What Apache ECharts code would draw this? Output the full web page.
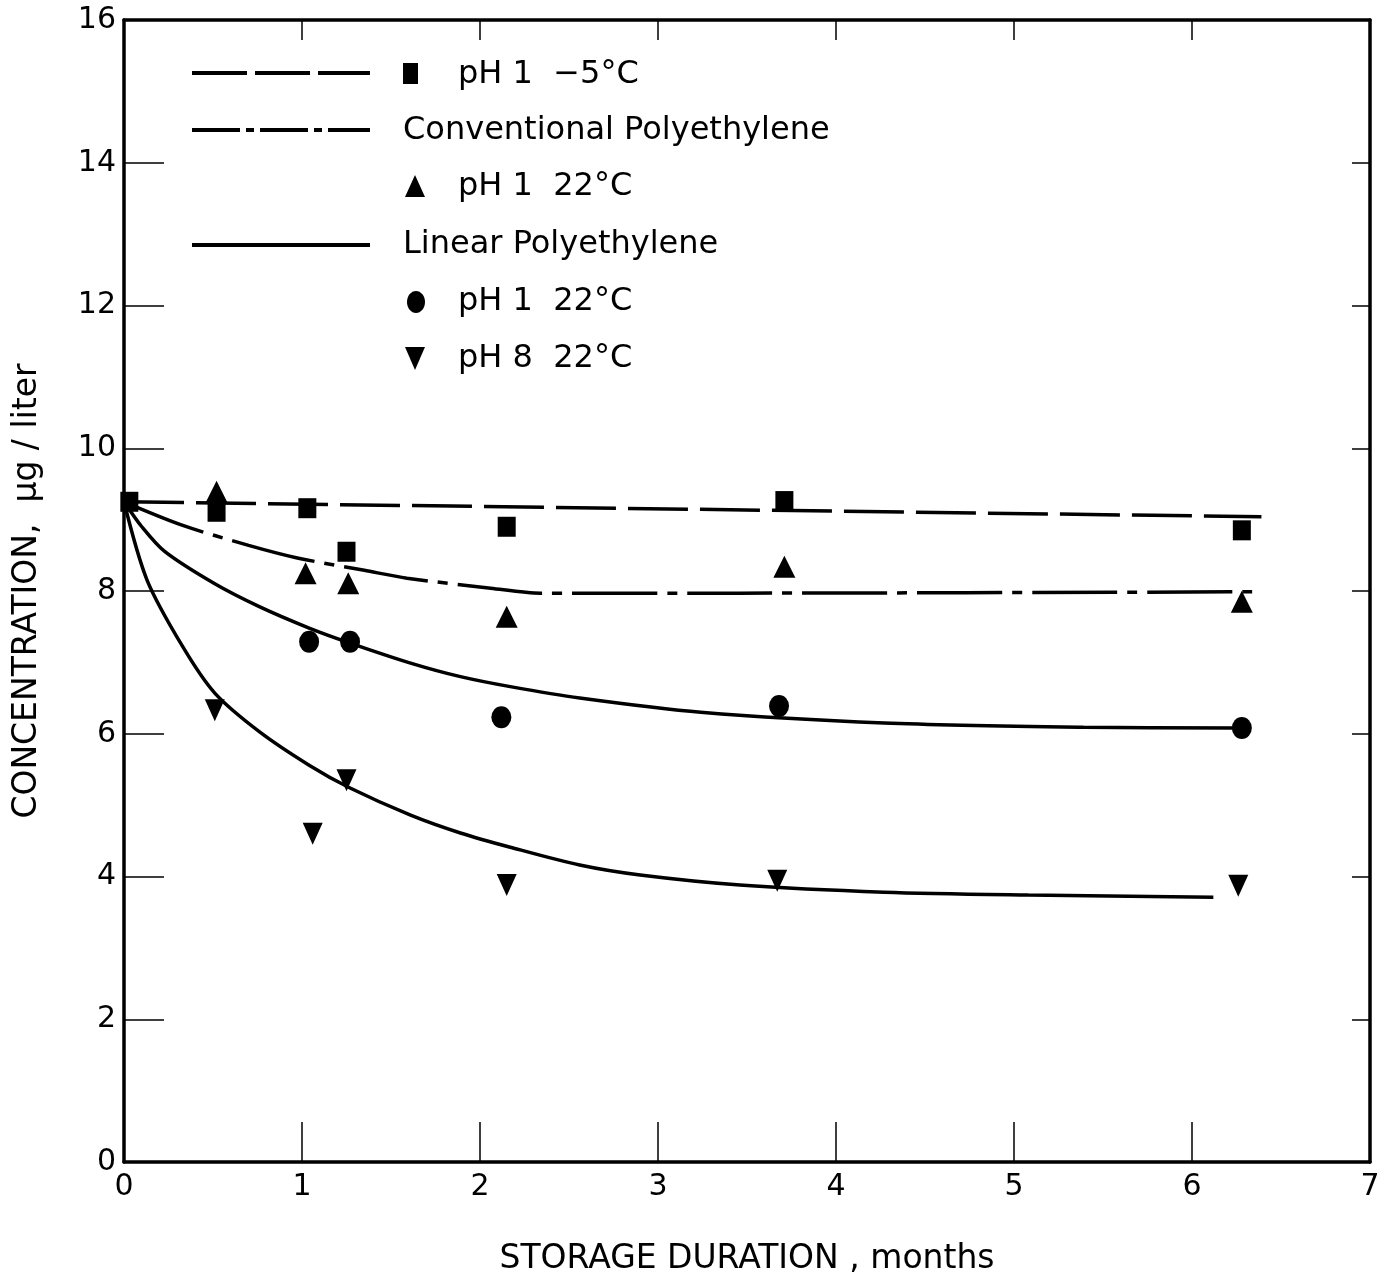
<!DOCTYPE html>
<html>
<head>
<meta charset="utf-8">
<script src="https://cdn.jsdelivr.net/npm/echarts@6/dist/echarts.min.js"></script>
<style>
  html, body { margin: 0; padding: 0; background: #fff; }
  #chart { width: 1390px; height: 1281px; }
</style>
</head>
<body>
<div id="chart"></div>
<script>
// measured points (months, ug/liter)
const sqX = [0.03, 0.52, 1.03, 1.25, 2.15, 3.71, 6.28];
const sqY = [9.25, 9.11, 9.16, 8.55, 8.90, 9.26, 8.85];
const triUpX = [0.52, 1.02, 1.26, 2.15, 3.71, 6.28];
const triUpY = [9.39, 8.25, 8.11, 7.64, 8.34, 7.85];
const circX = [1.04, 1.27, 2.12, 3.68, 6.28];
const circY = [7.29, 7.29, 6.23, 6.39, 6.08];
const triDnX = [0.51, 1.06, 1.25, 2.15, 3.67, 6.26];
const triDnY = [6.33, 4.60, 5.35, 3.88, 3.94, 3.87];

// fitted curves
const dashX = [0, 6.39];
const dashY = [9.25, 9.04];
const convX = [0, 0.33, 0.70, 0.98, 1.35, 1.59, 2.06, 2.34, 3.46, 6.39];
const convY = [9.25, 8.92, 8.64, 8.46, 8.29, 8.18, 8.04, 7.97, 7.97, 7.99];
const linX = [0, 0.10, 0.23, 0.51, 0.76, 1.04, 1.27, 1.61, 1.89, 2.17, 2.56, 3.24, 4.27, 5.39, 6.25];
const linY = [9.25, 8.90, 8.55, 8.10, 7.78, 7.48, 7.27, 6.99, 6.80, 6.66, 6.50, 6.30, 6.15, 6.09, 6.08];
const ph8X = [0, 0.13, 0.33, 0.51, 0.76, 1.04, 1.27, 1.61, 1.89, 2.17, 2.56, 2.90, 3.46, 4.27, 5.08, 6.12];
const ph8Y = [9.25, 8.15, 7.22, 6.57, 6.03, 5.56, 5.24, 4.86, 4.61, 4.41, 4.16, 4.02, 3.88, 3.78, 3.74, 3.71];

const legendRows = [
  'pH 1  \u22125\u00b0C',
  'Conventional Polyethylene',
  'pH 1  22\u00b0C',
  'Linear Polyethylene',
  'pH 1  22\u00b0C',
  'pH 8  22\u00b0C'
];

const FONT = "'DejaVu Sans', 'Liberation Sans', sans-serif";
const zip = (xs, ys) => xs.map((x, i) => [x, ys[i]]);

const chart = echarts.init(document.getElementById('chart'));

const lineStyleBase = { color: '#000', width: 3.5 };
const boxLine = { onZero: false, lineStyle: { color: '#000', width: 3.5 } };

const option = {
  backgroundColor: '#fff',
  animation: false,
  grid: { left: 124, right: 20, top: 20, bottom: 119 },
  xAxis: [
    {
      type: 'value', position: 'bottom', min: 0, max: 7, interval: 1,
      name: 'STORAGE DURATION , months', nameLocation: 'middle', nameGap: 81,
      nameTextStyle: { fontFamily: FONT, fontSize: 33, color: '#000' },
      axisLine: boxLine,
      axisTick: { inside: true, length: 40, lineStyle: { color: '#000', width: 1.5 } },
      axisLabel: { fontFamily: FONT, fontSize: 30, color: '#000', margin: 10 },
      splitLine: { show: false }
    },
    {
      type: 'value', position: 'top', min: 0, max: 7, interval: 1,
      axisLine: boxLine,
      axisTick: { inside: true, length: 20, lineStyle: { color: '#000', width: 1.5 } },
      axisLabel: { show: false },
      splitLine: { show: false }
    }
  ],
  yAxis: [
    {
      type: 'value', position: 'left', min: 0, max: 16, interval: 2,
      name: 'CONCENTRATION,  \u03bcg / liter', nameLocation: 'middle', nameGap: 80,
      nameTextStyle: { fontFamily: FONT, fontSize: 33, color: '#000' },
      axisLine: boxLine,
      axisTick: { inside: true, length: 40, lineStyle: { color: '#000', width: 1.5 } },
      axisLabel: { fontFamily: FONT, fontSize: 30, color: '#000', margin: 8 },
      splitLine: { show: false }
    },
    {
      type: 'value', position: 'right', min: 0, max: 16, interval: 2,
      axisLine: boxLine,
      axisTick: { inside: true, length: 18, lineStyle: { color: '#000', width: 1.5 } },
      axisLabel: { show: false },
      splitLine: { show: false }
    }
  ],
  series: [
    {
      name: 'pH 1 -5C fit', type: 'line', data: zip(dashX, dashY),
      symbol: 'none', lineStyle: Object.assign({}, lineStyleBase, { type: [60, 12] })
    },
    {
      name: 'Conventional Polyethylene', type: 'line', data: zip(convX, convY),
      symbol: 'none', smooth: 0.3,
      lineStyle: Object.assign({}, lineStyleBase, { type: [85, 10, 10, 10] })
    },
    {
      name: 'Linear Polyethylene pH 1', type: 'line', data: zip(linX, linY),
      symbol: 'none', smooth: 0.3, lineStyle: lineStyleBase
    },
    {
      name: 'Linear Polyethylene pH 8', type: 'line', data: zip(ph8X, ph8Y),
      symbol: 'none', smooth: 0.3, lineStyle: lineStyleBase
    },
    {
      name: 'pH 1 -5C', type: 'scatter', data: zip(sqX, sqY),
      symbol: 'rect', symbolSize: [18, 20], itemStyle: { color: '#000', opacity: 1 }, z: 5
    },
    {
      name: 'pH 1 22C (conv)', type: 'scatter', data: zip(triUpX, triUpY),
      symbol: 'triangle', symbolSize: [22, 22], itemStyle: { color: '#000', opacity: 1 }, z: 5
    },
    {
      name: 'pH 1 22C (linear)', type: 'scatter', data: zip(circX, circY),
      symbol: 'circle', symbolSize: [20, 22], itemStyle: { color: '#000', opacity: 1 }, z: 5
    },
    {
      name: 'pH 8 22C', type: 'scatter', data: zip(triDnX, triDnY),
      symbol: 'triangle', symbolRotate: 180, symbolSize: [20, 22],
      itemStyle: { color: '#000', opacity: 1 }, z: 5
    }
  ],
  graphic: [
    // legend keys
    { type: 'line', shape: { x1: 192, y1: 73, x2: 370, y2: 73 },
      style: { stroke: '#000', lineWidth: 4, lineDash: [55, 8] } },
    { type: 'rect', shape: { x: 403, y: 63, width: 15, height: 21 }, style: { fill: '#000' } },
    { type: 'line', shape: { x1: 192, y1: 130, x2: 370, y2: 130 },
      style: { stroke: '#000', lineWidth: 4, lineDash: [48, 6, 8, 6] } },
    { type: 'polygon', shape: { points: [[415, 175], [405, 197], [425, 197]] }, style: { fill: '#000' } },
    { type: 'line', shape: { x1: 192, y1: 245, x2: 370, y2: 245 },
      style: { stroke: '#000', lineWidth: 4 } },
    { type: 'ellipse', shape: { cx: 416, cy: 302, rx: 9, ry: 11 }, style: { fill: '#000' } },
    { type: 'polygon', shape: { points: [[405, 347], [425, 347], [415, 370]] }, style: { fill: '#000' } },
    // legend texts
    { type: 'text', x: 458, y: 75, style: { text: legendRows[0], font: '32px ' + FONT, fill: '#000', verticalAlign: 'middle' } },
    { type: 'text', x: 403, y: 131, style: { text: legendRows[1], font: '32px ' + FONT, fill: '#000', verticalAlign: 'middle' } },
    { type: 'text', x: 458, y: 187, style: { text: legendRows[2], font: '32px ' + FONT, fill: '#000', verticalAlign: 'middle' } },
    { type: 'text', x: 403, y: 245, style: { text: legendRows[3], font: '32px ' + FONT, fill: '#000', verticalAlign: 'middle' } },
    { type: 'text', x: 458, y: 302, style: { text: legendRows[4], font: '32px ' + FONT, fill: '#000', verticalAlign: 'middle' } },
    { type: 'text', x: 458, y: 359, style: { text: legendRows[5], font: '32px ' + FONT, fill: '#000', verticalAlign: 'middle' } }
  ]
};

chart.setOption(option);
</script>
</body>
</html>
